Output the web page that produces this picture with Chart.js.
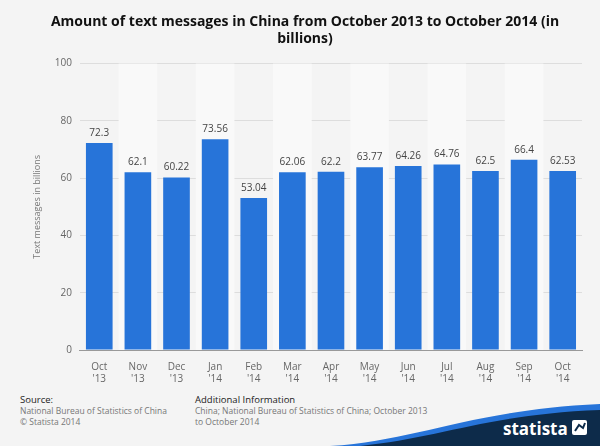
<!DOCTYPE html>
<html><head><meta charset="utf-8">
<script src="https://cdn.jsdelivr.net/npm/chart.js@4"></script>
<style>
body{margin:0;width:600px;height:446px;background:#f4f4f4;font-family:"Open Sans",Arial,sans-serif;position:relative;overflow:hidden}
#wrap{position:absolute;left:0;top:0;width:600px;height:392px}
.f{position:absolute;font-size:8.5px;color:#777;line-height:11px}
.f b{font-weight:normal;color:#222;font-size:9.5px}
</style></head><body>
<div id="wrap"><canvas id="c"></canvas></div>
<div class="f" style="left:20px;top:394px"><b>Source:</b><br>National Bureau of Statistics of China<br>© Statista 2014</div>
<div class="f" style="left:195px;top:394px;width:235px"><b>Additional Information</b><br>China; National Bureau of Statistics of China; October 2013 to October 2014</div>
<svg style="position:absolute;left:0;top:400px" width="600" height="46">
<path d="M330 46 C420 40 470 10 600 4 L600 46 Z" fill="#2774d9"/>
<path d="M360 46 C440 38 490 14 600 10 L600 46 Z" fill="#0d2b4a"/>
<text x="503" y="35" fill="#fff" font-family="Open Sans" font-weight="bold" font-size="17">statista</text>
<rect x="572" y="20" width="15" height="15" fill="#fff" rx="2"/>
<path d="M575 31 L579 25 L583 28 L585 23" stroke="#0d2b4a" stroke-width="2" fill="none"/>
</svg>
<script>
const categories=[["Oct","'13"],["Nov","'13"],["Dec","'13"],["Jan","'14"],["Feb","'14"],["Mar","'14"],["Apr","'14"],["May","'14"],["Jun","'14"],["Jul","'14"],["Aug","'14"],["Sep","'14"],["Oct","'14"]];
const values=[72.3,62.1,60.22,73.56,53.04,62.06,62.2,63.77,64.26,64.76,62.5,66.4,62.53];
const yTicks=[0,20,40,60,80,100];
const stripes={id:'stripes',beforeDatasetsDraw(ch){const {ctx,chartArea:a,scales:{x}}=ch;const w=x.getPixelForValue(1)-x.getPixelForValue(0);ctx.save();ctx.fillStyle='#f9f9f9';for(let i=1;i<categories.length;i+=2){ctx.fillRect(x.getPixelForValue(i)-w/2,a.top,w,a.bottom-a.top);}ctx.restore();}};
const labels={id:'labels',afterDatasetsDraw(ch){const {ctx}=ch;const m=ch.getDatasetMeta(0);ctx.save();ctx.font='10px "Open Sans"';ctx.fillStyle='#444';ctx.textAlign='center';ctx.textBaseline='bottom';m.data.forEach((b,i)=>ctx.fillText(String(values[i]),b.x,b.y-5));ctx.restore();}};
new Chart(document.getElementById('c'),{type:'bar',
data:{labels:categories,datasets:[{data:values,backgroundColor:'#2774d9',categoryPercentage:0.69,barPercentage:1}]},
options:{responsive:true,maintainAspectRatio:false,animation:false,
layout:{padding:{left:28,right:18,top:0,bottom:4}},
plugins:{legend:{display:false},tooltip:{enabled:false},
title:{display:true,text:['Amount of text messages in China from October 2013 to October 2014 (in','billions)'],font:{family:'Open Sans',size:14,weight:'bold'},color:'#111',padding:{top:14,bottom:16},lineHeight:1.55}},
scales:{x:{grid:{display:false},border:{color:'#999'},ticks:{color:'#666',font:{family:'Open Sans',size:10}}},
y:{min:0,max:100,afterBuildTicks(s){s.ticks=yTicks.map(v=>({value:v}));},grid:{color:'#ddd',drawTicks:false},border:{display:false},
ticks:{color:'#666',padding:8,font:{family:'Open Sans',size:10}},
title:{display:true,text:'Text messages in billions',color:'#777',font:{family:'Open Sans',size:9}}}}},
plugins:[stripes,labels]});
</script></body></html>
